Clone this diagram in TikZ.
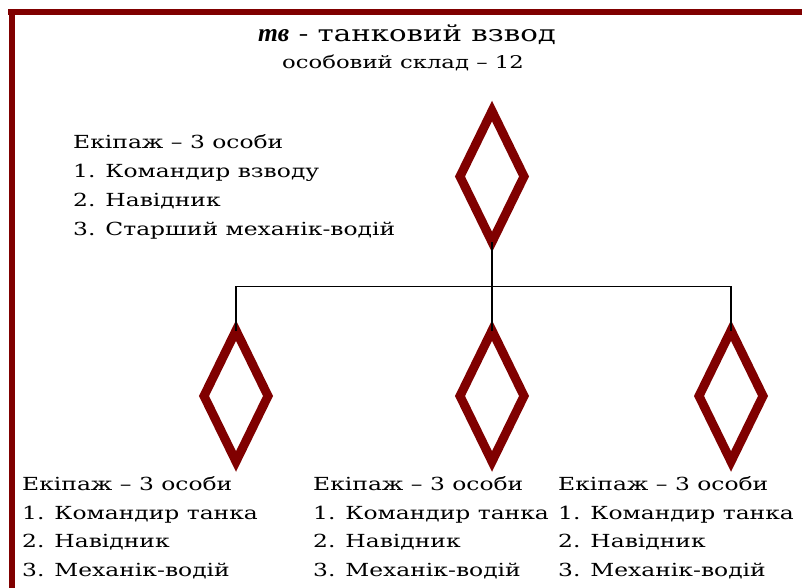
\documentclass[tikz,border=0pt]{standalone}
\usepackage{fontspec}
\usetikzlibrary{shapes.geometric}
\newfontfamily\bk[FakeStretch=1.3]{DejaVu Serif}
\newfontfamily\tmsbi{Liberation Serif}
\definecolor{darkred}{HTML}{800000}
\begin{document}
\begin{tikzpicture}[x=1pt,y=-1pt,
  rhomb/.style={shape=diamond, draw=darkred, line width=9pt, inner sep=0pt, outer sep=0pt,
    minimum width=64pt, minimum height=131pt},
  conn/.style={draw=black, line width=1.8pt},
  listtext/.style={font=\bk\fontsize{18}{28.5}\selectfont, align=left, inner sep=0pt, anchor=base west},
  toplist/.style={font=\bk\fontsize{18}{29}\selectfont, align=left, inner sep=0pt, anchor=base west},
  frame/.style={fill=darkred, draw=none}]
\useasboundingbox (0,0) rectangle (802,588);
% frame
\path[frame] (8,9) rectangle (802,15);
\path[frame] (9,9) rectangle (15,588);
% titles
\node[inner sep=0pt, anchor=base, font=\bk\fontsize{22.5}{25}\selectfont] (title) at (407,41.7)
  {{\tmsbi\fontsize{25.5}{25}\selectfont\bfseries\itshape тв} - танковий взвод};
\node[inner sep=0pt, anchor=base, font=\bk\fontsize{17.5}{23}\selectfont] (sub) at (403,68.3)
  {особовий склад – 12};
% diamonds
\node[rhomb] (top) at (492,176.5) {};
\node[rhomb] (d1) at (236,396) {};
\node[rhomb] (d2) at (492,396) {};
\node[rhomb] (d3) at (731,396) {};
% connectors
\coordinate (bus) at (236,286.5);
\draw[conn] (top.south) -- (d2.north);
\draw[conn] (d1.north) -- (d1.north |- bus) -- (d3.north |- bus) -- (d3.north);
% texts
\node[toplist] (crew0) at (73,235) {Екіпаж – 3 особи\\1. Командир взводу\\2. Навідник\\3. Старший механік-водій};
\node[listtext] (crew1) at (22,576) {Екіпаж – 3 особи\\1. Командир танка\\2. Навідник\\3. Механік-водій};
\node[listtext] (crew2) at (313,576) {Екіпаж – 3 особи\\1. Командир танка\\2. Навідник\\3. Механік-водій};
\node[listtext] (crew3) at (558,576) {Екіпаж – 3 особи\\1. Командир танка\\2. Навідник\\3. Механік-водій};
\end{tikzpicture}
\end{document}
